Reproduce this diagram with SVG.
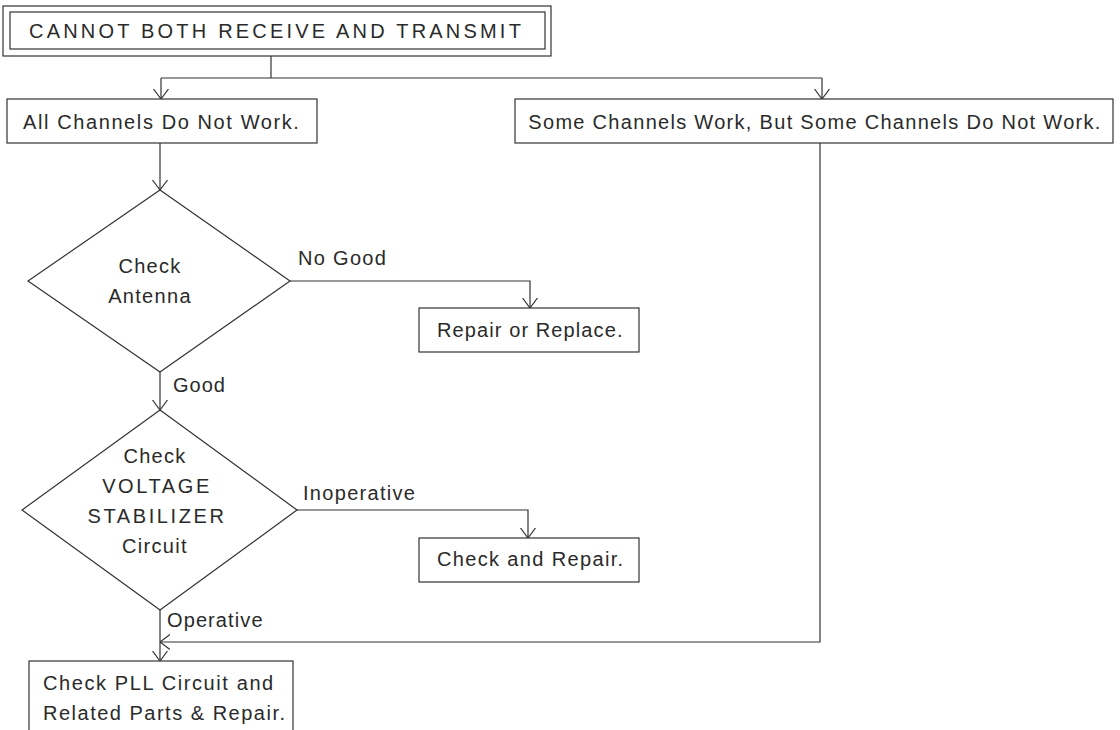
<svg xmlns="http://www.w3.org/2000/svg" width="1120" height="730" viewBox="0 0 1120 730">
<defs>
<marker id="arr" viewBox="0 0 10 18" refX="10" refY="9" markerWidth="10" markerHeight="18" markerUnits="userSpaceOnUse" orient="auto">
<path d="M0,1.5 L10,9 L0,16.5" fill="none" stroke="#333" stroke-width="1.2"/>
</marker>
<style>
.box{fill:#fff;stroke:#333;stroke-width:1.2}
.ln{fill:none;stroke:#333;stroke-width:1.2}
text{font-family:"Liberation Sans",Arial,sans-serif;font-size:20px;letter-spacing:1.3px;fill:#2a2a2a}
.c{text-anchor:middle}
.u{letter-spacing:2.6px}
</style>
</defs>
<rect width="1120" height="730" fill="#fff"/>
<g id="connectors">
<path class="ln" d="M271,56 V78"/>
<path class="ln" d="M161,78 H822"/>
<path class="ln" d="M161,78 V99" marker-end="url(#arr)"/>
<path class="ln" d="M822,78 V99" marker-end="url(#arr)"/>
<path class="ln" d="M160,143 V190" marker-end="url(#arr)"/>
<path class="ln" d="M290,281 H530 V308" marker-end="url(#arr)"/>
<path class="ln" d="M160,372 V410" marker-end="url(#arr)"/>
<path class="ln" d="M297,510 H528 V538" marker-end="url(#arr)"/>
<path class="ln" d="M160,610 V661" marker-end="url(#arr)"/>
<path class="ln" d="M820,143 V642 H160" marker-end="url(#arr)"/>
<text x="298" y="265">No Good</text>
<text x="173" y="392" style="letter-spacing:1px">Good</text>
<text x="303" y="500">Inoperative</text>
<text x="167" y="627" style="letter-spacing:1.1px">Operative</text>
</g>
<g id="title">
<rect class="box" x="3" y="6" width="548" height="50"/>
<rect class="box" x="10" y="12" width="535" height="37"/>
<text x="29" y="38" style="letter-spacing:3.2px">CANNOT BOTH RECEIVE AND TRANSMIT</text>
</g>
<g id="all-channels">
<rect class="box" x="7" y="99" width="310" height="44"/>
<text x="23" y="129" style="letter-spacing:1.6px">All Channels Do Not Work.</text>
</g>
<g id="some-channels">
<rect class="box" x="515" y="99" width="598" height="44"/>
<text class="c" x="815" y="129">Some Channels Work, But Some Channels Do Not Work.</text>
</g>
<g id="check-antenna">
<polygon class="box" points="160,190 290,281 160,372 28,281"/>
<text class="c" x="150" y="273">Check</text>
<text class="c" x="150" y="303">Antenna</text>
</g>
<g id="repair-replace">
<rect class="box" x="419" y="308" width="220" height="44"/>
<text x="437" y="337" style="letter-spacing:1.1px">Repair or Replace.</text>
</g>
<g id="check-voltage">
<polygon class="box" points="160,410 297,510 160,610 22,510"/>
<text class="c" x="155" y="463">Check</text>
<text class="c u" x="157" y="493">VOLTAGE</text>
<text class="c u" x="157" y="523">STABILIZER</text>
<text class="c" x="155" y="553">Circuit</text>
</g>
<g id="check-repair">
<rect class="box" x="419" y="538" width="220" height="44"/>
<text x="437" y="566" style="letter-spacing:1.35px">Check and Repair.</text>
</g>
<g id="check-pll">
<rect class="box" x="29" y="661" width="264" height="80"/>
<text x="43" y="690" style="letter-spacing:1.6px">Check PLL Circuit and</text>
<text x="43" y="720" style="letter-spacing:1.5px">Related Parts &amp; Repair.</text>
</g>
</svg>
